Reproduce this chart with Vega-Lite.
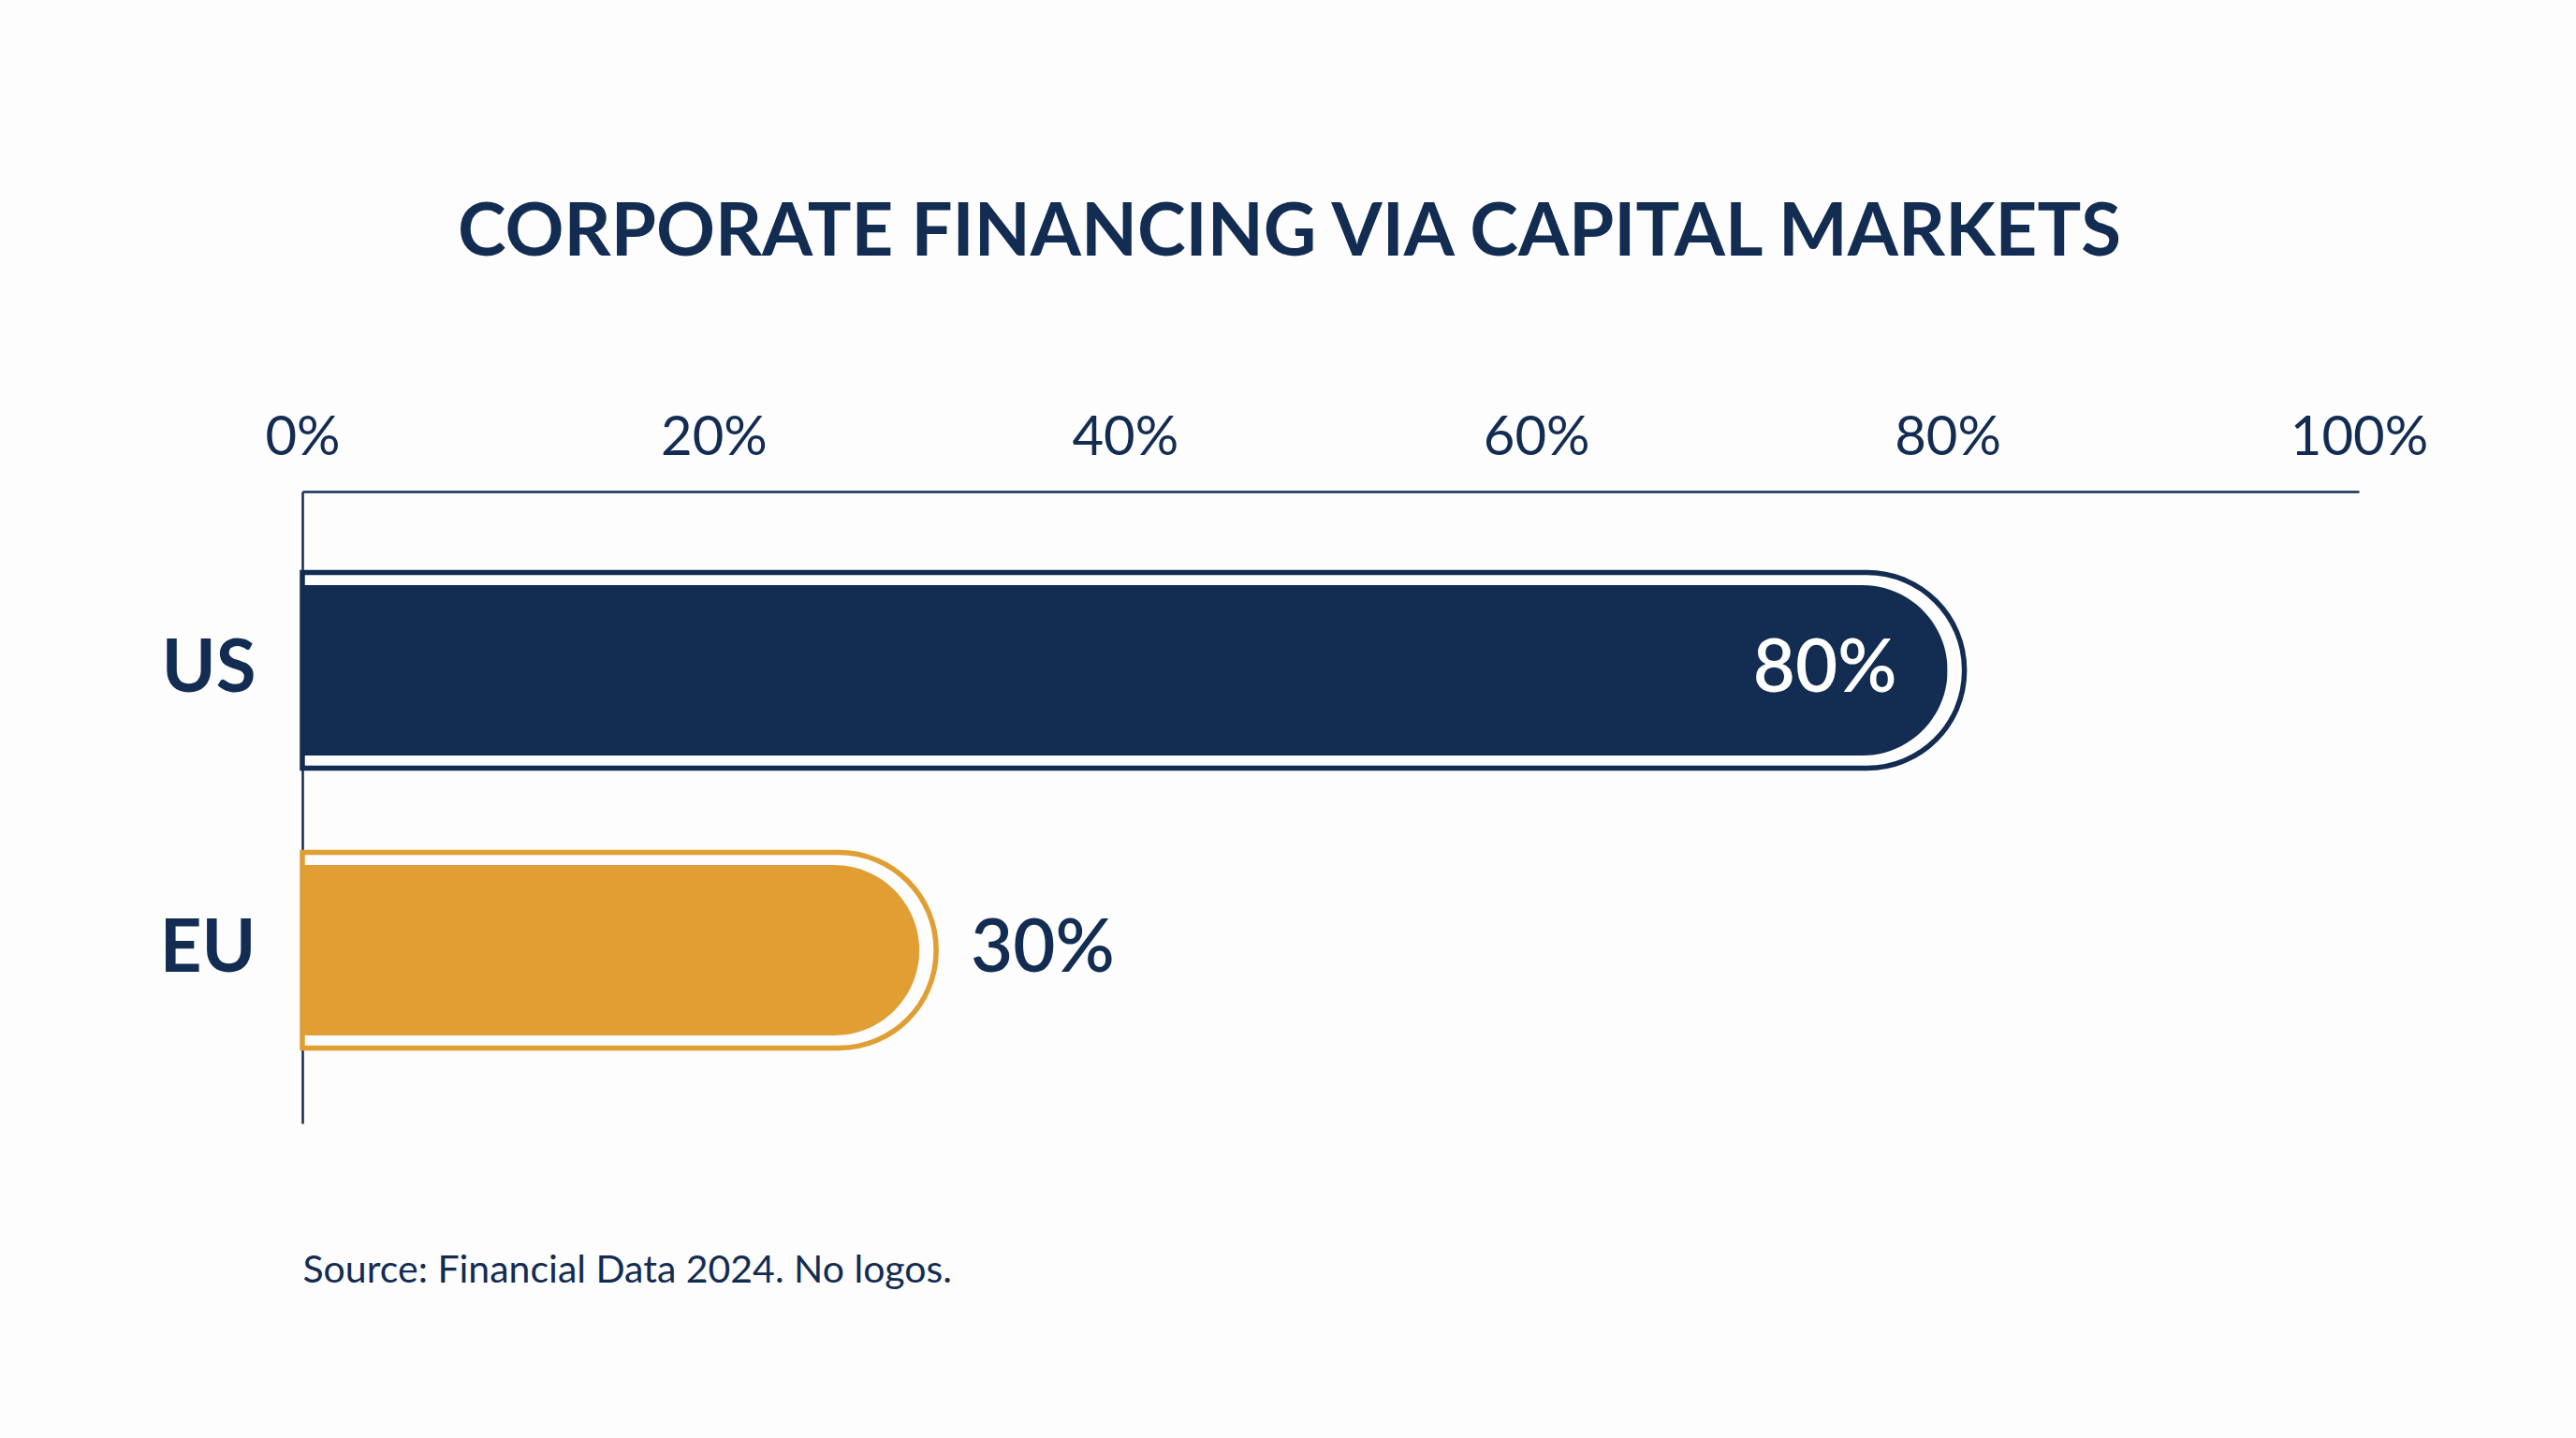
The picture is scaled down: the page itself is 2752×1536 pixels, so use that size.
{
  "$schema": "https://vega.github.io/schema/vega-lite/v6.json",
  "title": {
    "text": "CORPORATE FINANCING VIA CAPITAL MARKETS",
    "anchor": "middle",
    "dx": -44,
    "offset": 150,
    "font": "Lato",
    "fontSize": 78,
    "fontWeight": 700,
    "color": "#132c52"
  },
  "width": 2197,
  "height": 675,
  "autosize": {"type": "none"},
  "padding": {"left": 323, "top": 525, "right": 232, "bottom": 336},
  "background": "#fdfdfd",
  "view": {"stroke": null},
  "config": {
    "font": "Lato",
    "axis": {"grid": false, "ticks": false, "domainColor": "#132c52", "domainWidth": 2.5}
  },
  "data": {
    "values": [
      {"region": "US", "share": 0.8},
      {"region": "EU", "share": 0.3}
    ]
  },
  "encoding": {
    "y": {
      "field": "region",
      "type": "nominal",
      "sort": ["US", "EU"],
      "scale": {"paddingInner": 0.3, "paddingOuter": 0.2788, "align": 0.518},
      "axis": {
        "title": null,
        "labelFontSize": 78,
        "labelFontWeight": 700,
        "labelColor": "#132c52",
        "labelPadding": 50
      }
    }
  },
  "layer": [
    {
      "mark": {
        "type": "bar",
        "filled": false,
        "strokeWidth": 5.5,
        "size": 209,
        "cornerRadiusTopRight": 104,
        "cornerRadiusBottomRight": 104,
        "xOffset": 18
      },
      "encoding": {
        "x": {
          "field": "share",
          "type": "quantitative",
          "scale": {"domain": [0, 1]},
          "axis": {
            "orient": "top",
            "values": [0, 0.2, 0.4, 0.6, 0.8, 1],
            "format": ".0%",
            "title": null,
            "labelFlush": false,
            "labelFontSize": 58,
            "labelColor": "#132c52",
            "labelPadding": 28
          }
        },
        "x2": {"datum": 0},
        "color": {
          "field": "region",
          "type": "nominal",
          "scale": {"domain": ["US", "EU"], "range": ["#132c52", "#e09e33"]},
          "legend": null
        }
      }
    },
    {
      "mark": {"type": "bar", "size": 182, "cornerRadiusEnd": 91},
      "encoding": {
        "x": {
          "field": "share",
          "type": "quantitative",
          "axis": {
            "orient": "bottom",
            "labels": false,
            "domain": false,
            "title": "Source: Financial Data 2024. No logos.",
            "titleAnchor": "start",
            "titleAlign": "left",
            "titleFontSize": 41,
            "titleFontWeight": 400,
            "titleColor": "#132c52",
            "titlePadding": 137
          }
        },
        "color": {"field": "region", "type": "nominal", "legend": null}
      }
    },
    {
      "transform": [{"filter": "datum.region == 'US'"}],
      "mark": {"type": "text", "align": "right", "baseline": "middle", "dx": -54, "fontSize": 78, "fontWeight": 600, "color": "#ffffff"},
      "encoding": {
        "x": {"field": "share", "type": "quantitative", "axis": null},
        "text": {"field": "share", "format": ".0%"}
      }
    },
    {
      "transform": [{"filter": "datum.region == 'EU'"}],
      "mark": {"type": "text", "align": "left", "baseline": "middle", "dx": 55, "fontSize": 78, "fontWeight": 600, "color": "#132c52"},
      "encoding": {
        "x": {"field": "share", "type": "quantitative", "axis": null},
        "text": {"field": "share", "format": ".0%"}
      }
    }
  ],
  "resolve": {"axis": {"x": "independent"}}
}
